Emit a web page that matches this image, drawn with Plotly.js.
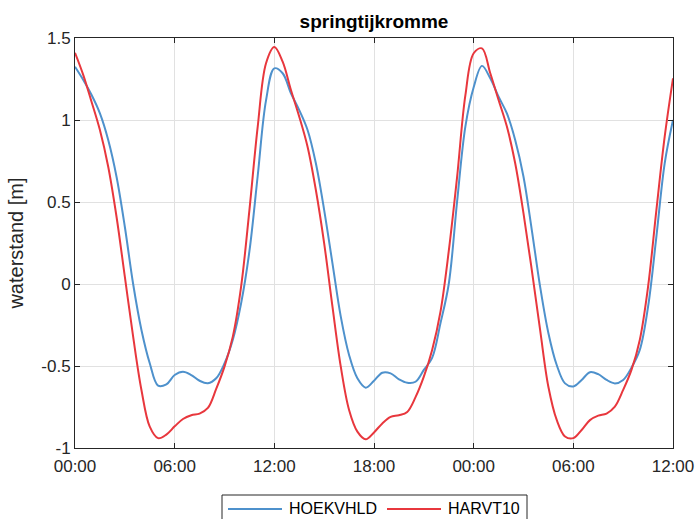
<!DOCTYPE html>
<html>
<head>
<meta charset="utf-8">
<script src="https://cdn.plot.ly/plotly-3.0.1.min.js"></script>
<style>html,body{margin:0;padding:0;background:#fff;}#chart{width:698px;height:519px;}</style>
</head>
<body>
<div id="chart"></div>
<script>
// time in hours since 00:00
var hours = [0,0.5,1,1.5,2,2.5,3,3.5,4,4.5,5,5.5,6,6.5,7,7.5,8,8.5,9,9.5,10,10.5,11,11.5,12,12.5,13,13.5,14,14.5,15,15.5,16,16.5,17,17.5,18,18.5,19,19.5,20,20.5,21,21.5,22,22.5,23,23.5,24,24.5,25,25.5,26,26.5,27,27.5,28,28.5,29,29.5,30,30.5,31,31.5,32,32.5,33,33.5,34,34.5,35,35.5,36];

var hoekvhld = [1.325,1.244,1.152,1.04,0.878,0.654,0.349,0.0,-0.28,-0.483,-0.62,-0.612,-0.555,-0.535,-0.555,-0.59,-0.605,-0.575,-0.484,-0.34,-0.118,0.2,0.66,1.12,1.315,1.285,1.163,1.06,0.939,0.736,0.451,0.126,-0.199,-0.433,-0.575,-0.632,-0.59,-0.541,-0.545,-0.581,-0.602,-0.596,-0.524,-0.45,-0.24,0.0,0.5,0.96,1.2,1.33,1.254,1.142,1.04,0.878,0.654,0.329,-0.016,-0.3,-0.494,-0.606,-0.625,-0.585,-0.538,-0.55,-0.585,-0.606,-0.585,-0.51,-0.402,-0.138,0.289,0.736,1.0];

var harvt10 = [1.41,1.274,1.11,0.939,0.715,0.41,0.045,-0.321,-0.646,-0.87,-0.94,-0.918,-0.868,-0.823,-0.8,-0.79,-0.756,-0.64,-0.504,-0.321,-0.016,0.451,0.96,1.346,1.445,1.356,1.183,1.02,0.837,0.573,0.248,-0.138,-0.504,-0.768,-0.9,-0.947,-0.905,-0.85,-0.81,-0.8,-0.78,-0.69,-0.565,-0.402,-0.17,0.2,0.65,1.15,1.407,1.437,1.285,1.122,0.96,0.736,0.431,0.085,-0.28,-0.628,-0.829,-0.93,-0.94,-0.89,-0.83,-0.803,-0.79,-0.748,-0.646,-0.524,-0.341,-0.016,0.451,0.898,1.254];

var seriesNames = ['HOEKVHLD', 'HARVT10'];
var xTickVals = [0,6,12,18,24,30,36];
var xTickText = ['00:00','06:00','12:00','18:00','00:00','06:00','12:00'];
var yTickVals = [-1,-0.5,0,0.5,1,1.5];
var yTickText = ['-1','-0.5','0','0.5','1','1.5'];

var blue = '#4e91cc', red = '#e8373d';
var axisCol = '#262626';
var font = 'Liberation Sans, Arial, Helvetica, sans-serif';

var traces = [
  {x: hours, y: hoekvhld, name: seriesNames[0], mode: 'lines', line: {color: blue, width: 2, shape: 'spline', smoothing: 1}},
  {x: hours, y: harvt10, name: seriesNames[1], mode: 'lines', line: {color: red, width: 2, shape: 'spline', smoothing: 1}}
];

// plot area in px: left 75, right 673, top 38, bottom 448
var L = 75, R = 673, T = 38, B = 448;
function px(x){ return (x - L) / (R - L); }
function py(y){ return (B - y) / (B - T); }

var legendTop = 495, legendLeft = 222, legendRight = 527, legendRow = 509;
var shapes = [
  {type: 'rect', xref: 'paper', yref: 'paper', x0: px(legendLeft), x1: px(legendRight), y0: py(legendTop), y1: py(540), line: {color: axisCol, width: 1}, fillcolor: 'rgba(255,255,255,1)', layer: 'above'},
  {type: 'line', xref: 'paper', yref: 'paper', x0: px(228), x1: px(282), y0: py(legendRow), y1: py(legendRow), line: {color: blue, width: 2}},
  {type: 'line', xref: 'paper', yref: 'paper', x0: px(387), x1: px(441), y0: py(legendRow), y1: py(legendRow), line: {color: red, width: 2}}
];
var annotations = [
  {xref: 'paper', yref: 'paper', x: px(287), y: py(legendRow), xanchor: 'left', yanchor: 'middle', text: seriesNames[0], showarrow: false, font: {family: font, size: 16, color: '#000'}},
  {xref: 'paper', yref: 'paper', x: px(446), y: py(legendRow), xanchor: 'left', yanchor: 'middle', text: seriesNames[1], showarrow: false, font: {family: font, size: 16, color: '#000'}}
];

var layout = {
  width: 698, height: 519,
  margin: {l: L, r: 698 - R, t: T, b: 519 - B, pad: 0},
  paper_bgcolor: '#fff', plot_bgcolor: '#fff',
  showlegend: false,
  font: {family: font, size: 17, color: axisCol},
  title: {text: '<b>springtijkromme</b>', font: {family: font, size: 19, color: '#000'}, x: px(374), xref: 'paper', xanchor: 'center', y: 1 - 21/519, yref: 'container', yanchor: 'middle'},
  xaxis: {
    range: [0, 36], tickvals: xTickVals, ticktext: xTickText,
    showgrid: true, gridcolor: '#e1e1e1', gridwidth: 1,
    zeroline: false, showline: true, linecolor: axisCol, linewidth: 1, mirror: 'ticks',
    ticks: 'inside', ticklen: 5, tickcolor: axisCol, tickwidth: 1, ticklabelstandoff: 3,
    tickfont: {family: font, size: 17, color: axisCol}
  },
  yaxis: {
    range: [-1, 1.5], tickvals: yTickVals, ticktext: yTickText,
    showgrid: true, gridcolor: '#e1e1e1', gridwidth: 1,
    zeroline: false, showline: true, linecolor: axisCol, linewidth: 1, mirror: 'ticks',
    ticks: 'inside', ticklen: 5, tickcolor: axisCol, tickwidth: 1,
    tickfont: {family: font, size: 17, color: axisCol},
    title: {text: 'waterstand [m]', font: {family: font, size: 20, color: axisCol}, standoff: 12}
  },
  shapes: shapes,
  annotations: annotations
};

Plotly.newPlot('chart', traces, layout, {displayModeBar: false, staticPlot: true});
</script>
</body>
</html>
